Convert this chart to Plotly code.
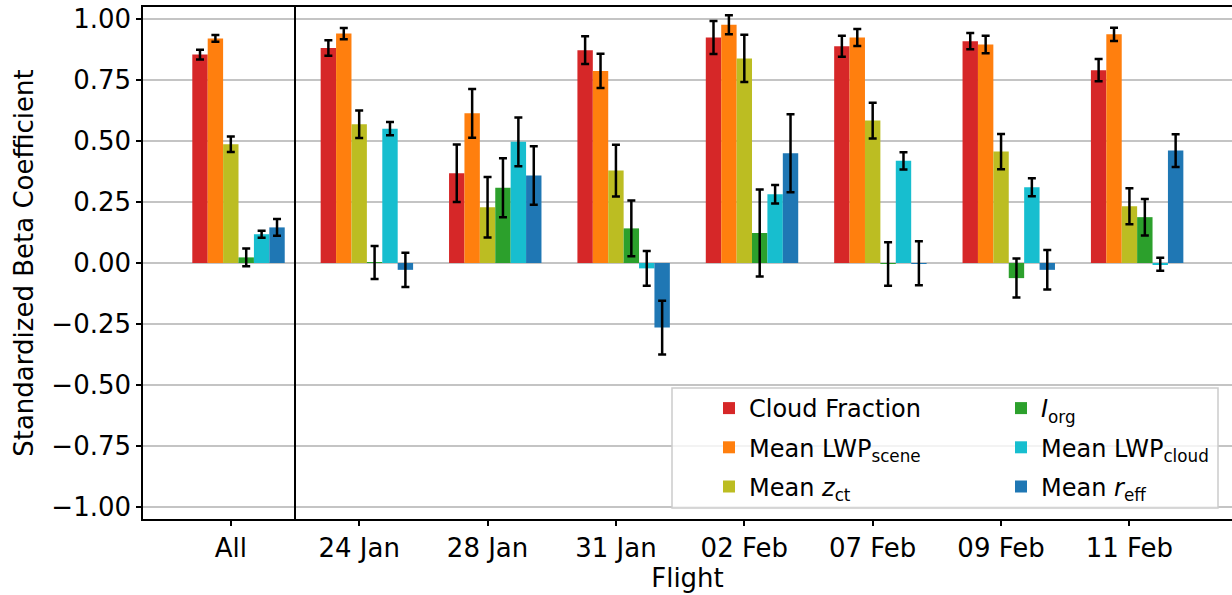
import numpy as np
import plotly.graph_objects as go

flights = ["All", "24 Jan", "28 Jan", "31 Jan", "02 Feb", "07 Feb", "09 Feb", "11 Feb"]

series_names = [
    "Cloud Fraction",
    "Mean LWP<sub>scene</sub>",
    "Mean <i>z</i><sub>ct</sub>",
    "<i>I</i><sub>org</sub>",
    "Mean LWP<sub>cloud</sub>",
    "Mean <i>r</i><sub>eff</sub>",
]
colors = ["#d62728", "#ff7f0e", "#bcbd22", "#2ca02c", "#17becf", "#1f77b4"]

cloud_fraction = [0.855, 0.882, 0.368, 0.873, 0.925, 0.889, 0.910, 0.791]
cloud_fraction_err = [0.020, 0.032, 0.118, 0.057, 0.068, 0.043, 0.033, 0.046]

lwp_scene = [0.921, 0.941, 0.614, 0.788, 0.977, 0.925, 0.896, 0.938]
lwp_scene_err = [0.014, 0.023, 0.100, 0.070, 0.039, 0.035, 0.036, 0.027]

z_ct = [0.487, 0.569, 0.229, 0.379, 0.839, 0.584, 0.457, 0.233]
z_ct_err = [0.032, 0.056, 0.124, 0.106, 0.097, 0.073, 0.072, 0.074]

i_org = [0.023, 0.002, 0.309, 0.142, 0.123, -0.004, -0.062, 0.188]
i_org_err = [0.036, 0.068, 0.121, 0.114, 0.178, 0.089, 0.080, 0.075]

lwp_cloud = [0.118, 0.551, 0.497, -0.022, 0.282, 0.419, 0.311, -0.005]
lwp_cloud_err = [0.014, 0.027, 0.100, 0.071, 0.038, 0.035, 0.037, 0.027]

r_eff = [0.146, -0.028, 0.359, -0.265, 0.450, -0.001, -0.028, 0.461]
r_eff_err = [0.034, 0.070, 0.120, 0.110, 0.160, 0.090, 0.081, 0.067]

values = [cloud_fraction, lwp_scene, z_ct, i_org, lwp_cloud, r_eff]
errors = [cloud_fraction_err, lwp_scene_err, z_ct_err, i_org_err, lwp_cloud_err, r_eff_err]

y_ticks = [1.0, 0.75, 0.5, 0.25, 0.0, -0.25, -0.5, -0.75, -1.0]
y_tick_labels = ["1.00", "0.75", "0.50", "0.25", "0.00", "\u22120.25", "\u22120.50", "\u22120.75", "\u22121.00"]

FONT = "DejaVu Sans"
bar_w = 0.12
pos = np.arange(len(flights))

fig = go.Figure()
for i, (name, col, v, e) in enumerate(zip(series_names, colors, values, errors)):
    fig.add_trace(go.Bar(
        x=pos + (i - 2) * bar_w,
        y=v,
        width=bar_w,
        name=name,
        marker=dict(color=col, line=dict(width=0)),
        error_y=dict(type="data", array=e, color="black", thickness=2.5, width=4),
        legend="legend" if i < 3 else "legend2",
        legendgroup="g%d" % i,
    ))

# separator between "All" and individual flights
fig.add_shape(type="line", xref="x", yref="paper", x0=0.5, x1=0.5, y0=0, y1=1,
              line=dict(color="black", width=2))

# legend frame
L, R, T, B = 143, 1232, 7, 519
pw, ph = R - L, B - T
def px(x):
    return (x - L) / pw
def py(y):
    return (B - y) / ph

fig.add_shape(type="rect", xref="paper", yref="paper",
              x0=px(672), x1=px(1218), y0=py(508), y1=py(388),
              fillcolor="rgba(255,255,255,0.8)", line=dict(color="#cccccc", width=1.5),
              layer="above")

legend_common = dict(
    font=dict(family=FONT, size=24, color="black"),
    bgcolor="rgba(0,0,0,0)", borderwidth=0,
    orientation="v", yanchor="top", xanchor="left",
    tracegroupgap=5, itemwidth=30,
)

fig.update_layout(
    width=1232, height=595,
    margin=dict(l=L, r=1232 - R, t=T, b=595 - B),
    paper_bgcolor="white", plot_bgcolor="white",
    barmode="overlay",
    font=dict(family=FONT, color="black"),
    legend=dict(x=px(709), y=py(386), **legend_common),
    legend2=dict(x=px(1001), y=py(386), **legend_common),
    xaxis=dict(
        range=[-0.684, 7.799],
        tickvals=list(pos), ticktext=flights,
        tickfont=dict(family=FONT, size=26, color="black"),
        ticks="outside", ticklen=5, tickwidth=1.5, tickcolor="black",
        showline=True, linecolor="black", linewidth=1.5, mirror=True,
        showgrid=False, zeroline=False,
        title=dict(text="Flight", font=dict(family=FONT, size=26, color="black"), standoff=4),
    ),
    yaxis=dict(
        range=[-1.05, 1.05],
        tickvals=y_ticks, ticktext=y_tick_labels,
        tickfont=dict(family=FONT, size=26, color="black"),
        ticks="outside", ticklen=5, tickwidth=1.5, tickcolor="black",
        showline=True, linecolor="black", linewidth=1.5, mirror=False,
        showgrid=True, gridcolor="#c4c4c4", gridwidth=1.5, zeroline=False,
        title=dict(text="Standardized Beta Coefficient", font=dict(family=FONT, size=26, color="black"), standoff=10),
    ),
)

fig.write_html("out.html")
